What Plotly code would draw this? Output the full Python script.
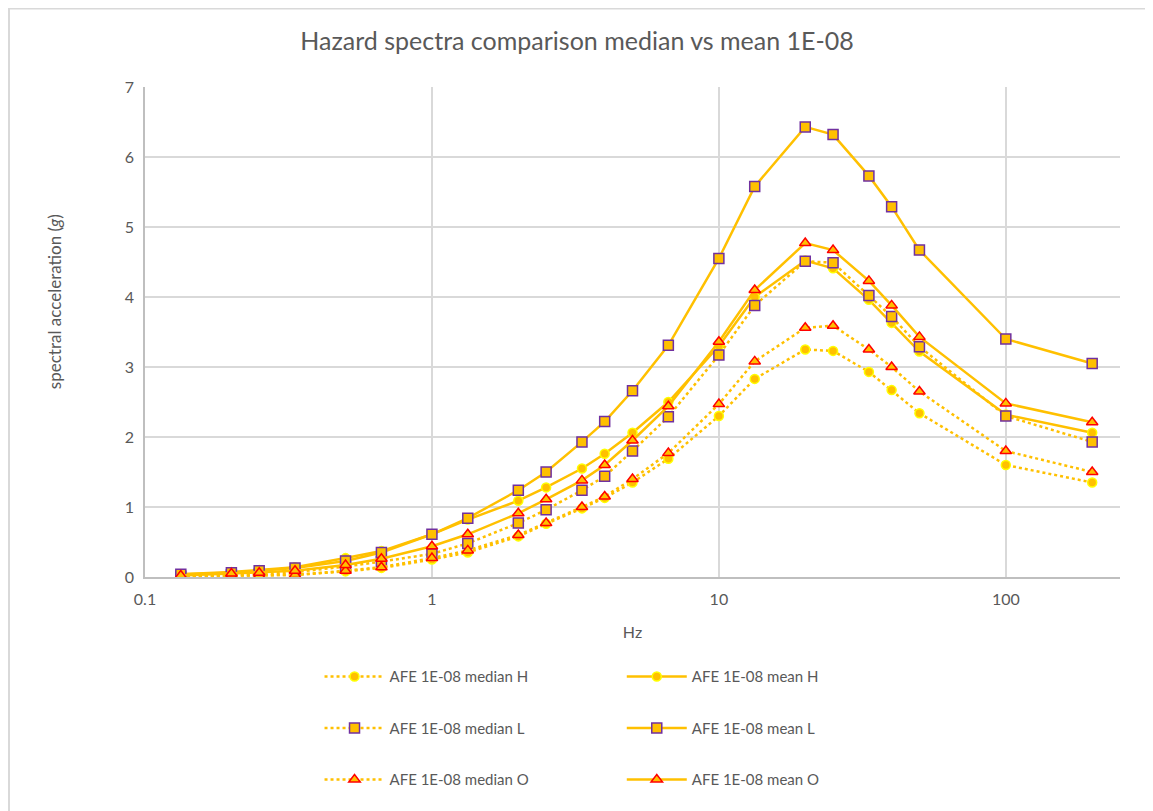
import numpy as np
import plotly.graph_objects as go

GOLD = "#FFC000"
GRID = "#D9D9D9"
TXT = "#595959"

hz = [0.1333, 0.2, 0.25, 0.3333, 0.5, 0.6667, 1, 1.3333, 2, 2.5, 3.3333, 4, 5,
      6.6667, 10, 13.333, 20, 25, 33.333, 40, 50, 100, 200]

median_h = [0.01, 0.02, 0.02, 0.03, 0.08, 0.13, 0.25, 0.35, 0.58, 0.76, 0.98, 1.13, 1.35,
            1.69, 2.30, 2.83, 3.25, 3.23, 2.93, 2.67, 2.34, 1.60, 1.35]
mean_h = [0.04, 0.07, 0.10, 0.14, 0.27, 0.37, 0.61, 0.82, 1.09, 1.28, 1.55, 1.76, 2.06,
          2.50, 3.30, 4.00, 4.52, 4.41, 3.96, 3.63, 3.22, 2.32, 2.06]
median_l = [0.01, 0.03, 0.04, 0.07, 0.15, 0.22, 0.33, 0.48, 0.77, 0.96, 1.24, 1.44, 1.80,
            2.29, 3.17, 3.88, 4.51, 4.49, 4.02, 3.72, 3.29, 2.30, 1.93]
mean_l = [0.04, 0.06, 0.09, 0.13, 0.23, 0.35, 0.61, 0.84, 1.24, 1.50, 1.93, 2.22, 2.66,
          3.31, 4.55, 5.58, 6.43, 6.32, 5.73, 5.29, 4.67, 3.40, 3.05]
median_o = [0.01, 0.02, 0.02, 0.03, 0.09, 0.14, 0.27, 0.38, 0.60, 0.77, 1.00, 1.15, 1.40,
            1.77, 2.47, 3.08, 3.56, 3.59, 3.25, 3.00, 2.65, 1.80, 1.50]
mean_o = [0.02, 0.05, 0.06, 0.09, 0.17, 0.26, 0.44, 0.61, 0.91, 1.11, 1.38, 1.60, 1.95,
          2.44, 3.36, 4.10, 4.77, 4.67, 4.23, 3.88, 3.43, 2.48, 2.21]

series = [
    ("AFE 1E-08 median H", median_h, "dot", "circle", "#FFFF00", "legend"),
    ("AFE 1E-08 mean H", mean_h, "solid", "circle", "#FFFF00", "legend2"),
    ("AFE 1E-08 median L", median_l, "dot", "square", "#7030A0", "legend"),
    ("AFE 1E-08 mean L", mean_l, "solid", "square", "#7030A0", "legend2"),
    ("AFE 1E-08 median O", median_o, "dot", "triangle-up", "#FF0000", "legend"),
    ("AFE 1E-08 mean O", mean_o, "solid", "triangle-up", "#FF0000", "legend2"),
]

fig = go.Figure()
for name, y, dash, sym, edge, leg in series:
    fig.add_trace(go.Scatter(
        x=hz, y=y, name=name, mode="lines+markers", legend=leg, legendgroup=name,
        line=dict(color=GOLD, width=2.5, dash=dash),
        marker=dict(symbol=sym, size=10 if sym != "circle" else 9, color=GOLD,
                    line=dict(color=edge, width=1.5)),
    ))

# page has an 8px body margin, so the figure is sized 8px smaller each way
leg_style = dict(font=dict(family="Lato", size=15, color=TXT), tracegroupgap=29,
                 itemwidth=60, yanchor="top", y=-0.17, bgcolor="rgba(0,0,0,0)")

fig.update_layout(
    width=1145, height=803,
    margin=dict(l=137, r=33, t=79, b=234),
    paper_bgcolor="white", plot_bgcolor="white",
    font=dict(family="Lato", color=TXT),
    title=dict(text="Hazard spectra comparison median vs mean 1E-08",
               x=0.497, xanchor="center", y=0.958, yanchor="middle",
               font=dict(family="Lato", size=25, color=TXT)),
    legend=dict(x=0.179, xanchor="left", **leg_style),
    legend2=dict(x=0.489, xanchor="left", **leg_style),
    shapes=[dict(type="rect", xref="paper", yref="paper", x0=-0.1395, x1=1.0305,
                 y0=-0.49, y1=1.16, line=dict(color=GRID, width=2))],
    annotations=[dict(text="spectral acceleration (<i>g</i>)", textangle=-90,
                      xref="paper", yref="paper", x=-0.0933, y=0.561,
                      xanchor="center", yanchor="middle", showarrow=False,
                      font=dict(size=17, color=TXT))],
)
fig.update_xaxes(
    type="log", range=[-1, np.log10(250)], tickvals=[0.1, 1, 10, 100],
    ticktext=["0.1", "1", "10", "100"], showgrid=True, gridcolor=GRID, gridwidth=1.5,
    showline=True, linecolor="#BFBFBF", linewidth=1.5, ticks="", ticklabelstandoff=7,
    tickfont=dict(size=16, color=TXT),
    title=dict(text="Hz", font=dict(size=16, color=TXT), standoff=20),
    zeroline=False,
)
fig.update_yaxes(
    range=[0, 7], dtick=1, showgrid=True, gridcolor=GRID, gridwidth=1.5,
    showline=True, linecolor="#BFBFBF", linewidth=1.5, ticks="", ticklabelstandoff=6,
    tickfont=dict(size=16, color=TXT),
    zeroline=False,
)

fig.write_html("out.html")
